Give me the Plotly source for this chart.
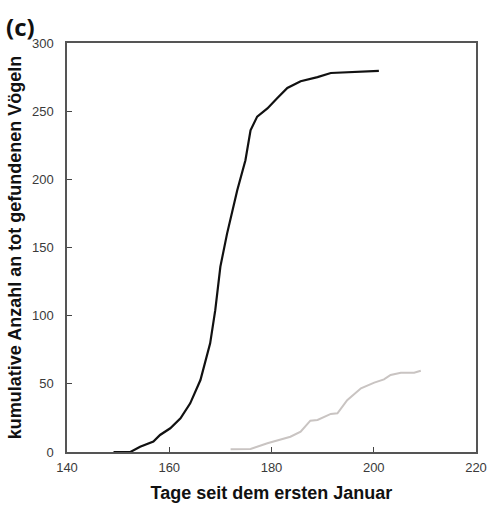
import plotly.graph_objects as go

# Kumulative Funde (schwarze Kurve)
tage_a = [149.1, 152.4, 154.3, 156.9, 158.2, 160.2, 162.2, 164.1, 166.1, 168.0, 169.0,
          170.0, 171.3, 173.3, 174.9, 175.9, 177.2, 179.2, 181.1, 183.1, 185.7, 189.0,
          191.6, 195.5, 201.0]
anzahl_a = [0, 0, 3.9, 7.6, 12.5, 17.4, 24.7, 35.7, 52.8, 79.7, 104,
            136, 160, 192, 214, 236, 246, 252, 259.5, 267, 272, 275,
            278, 278.5, 279.5]

# Kumulative Funde (graue Kurve)
tage_b = [172.0, 175.9, 179.2, 183.7, 185.7, 187.6, 189.0, 191.6, 192.9, 194.8,
          197.5, 200.1, 202.0, 203.3, 205.3, 207.9, 209.2]
anzahl_b = [2, 2.2, 6.4, 11.2, 14.9, 23, 23.5, 27.9, 28.4, 38,
            46.7, 50.9, 53.3, 56.5, 58.2, 58.2, 59.6]

x_ticks = [140, 160, 180, 200, 220]
y_ticks = [0, 50, 100, 150, 200, 250, 300]

fig = go.Figure()
fig.add_trace(go.Scatter(x=tage_b, y=anzahl_b, mode="lines",
                         line=dict(color="#c9c4c2", width=2), showlegend=False))
fig.add_trace(go.Scatter(x=tage_a, y=anzahl_a, mode="lines",
                         line=dict(color="#111111", width=2.2), showlegend=False))

axis_common = dict(
    showgrid=False, zeroline=False, showline=True, linecolor="#555555", linewidth=1.5,
    mirror=True, ticks="inside", ticklen=5, tickcolor="#444444", tickwidth=1,
    automargin=False,
    tickfont=dict(family="Liberation Sans, Arial", size=13, color="#3a3a3a"),
)

fig.update_layout(
    width=488, height=506,
    margin=dict(l=67, r=12, t=43, b=54),
    paper_bgcolor="white", plot_bgcolor="white",
    xaxis=dict(range=[140, 220], tickvals=x_ticks, ticklabelstandoff=3, **axis_common,
               title=dict(text="<b>Tage seit dem ersten Januar</b>", standoff=12,
                          font=dict(family="Liberation Sans, Arial", size=18, color="#111111"))),
    yaxis=dict(range=[0, 300], tickvals=y_ticks, ticklabelstandoff=9, **axis_common,
               title=dict(text="<b>kumulative Anzahl an tot gefundenen Vögeln</b>", standoff=6,
                          font=dict(family="Liberation Sans, Arial", size=18, color="#111111"))),
)
fig.add_annotation(text="<b>(c)</b>", xref="paper", yref="paper",
                   x=-0.155, y=1.085, xanchor="left", yanchor="top", showarrow=False,
                   font=dict(family="Open Sans", size=24, color="#111111"))

fig.write_html("out.html")
